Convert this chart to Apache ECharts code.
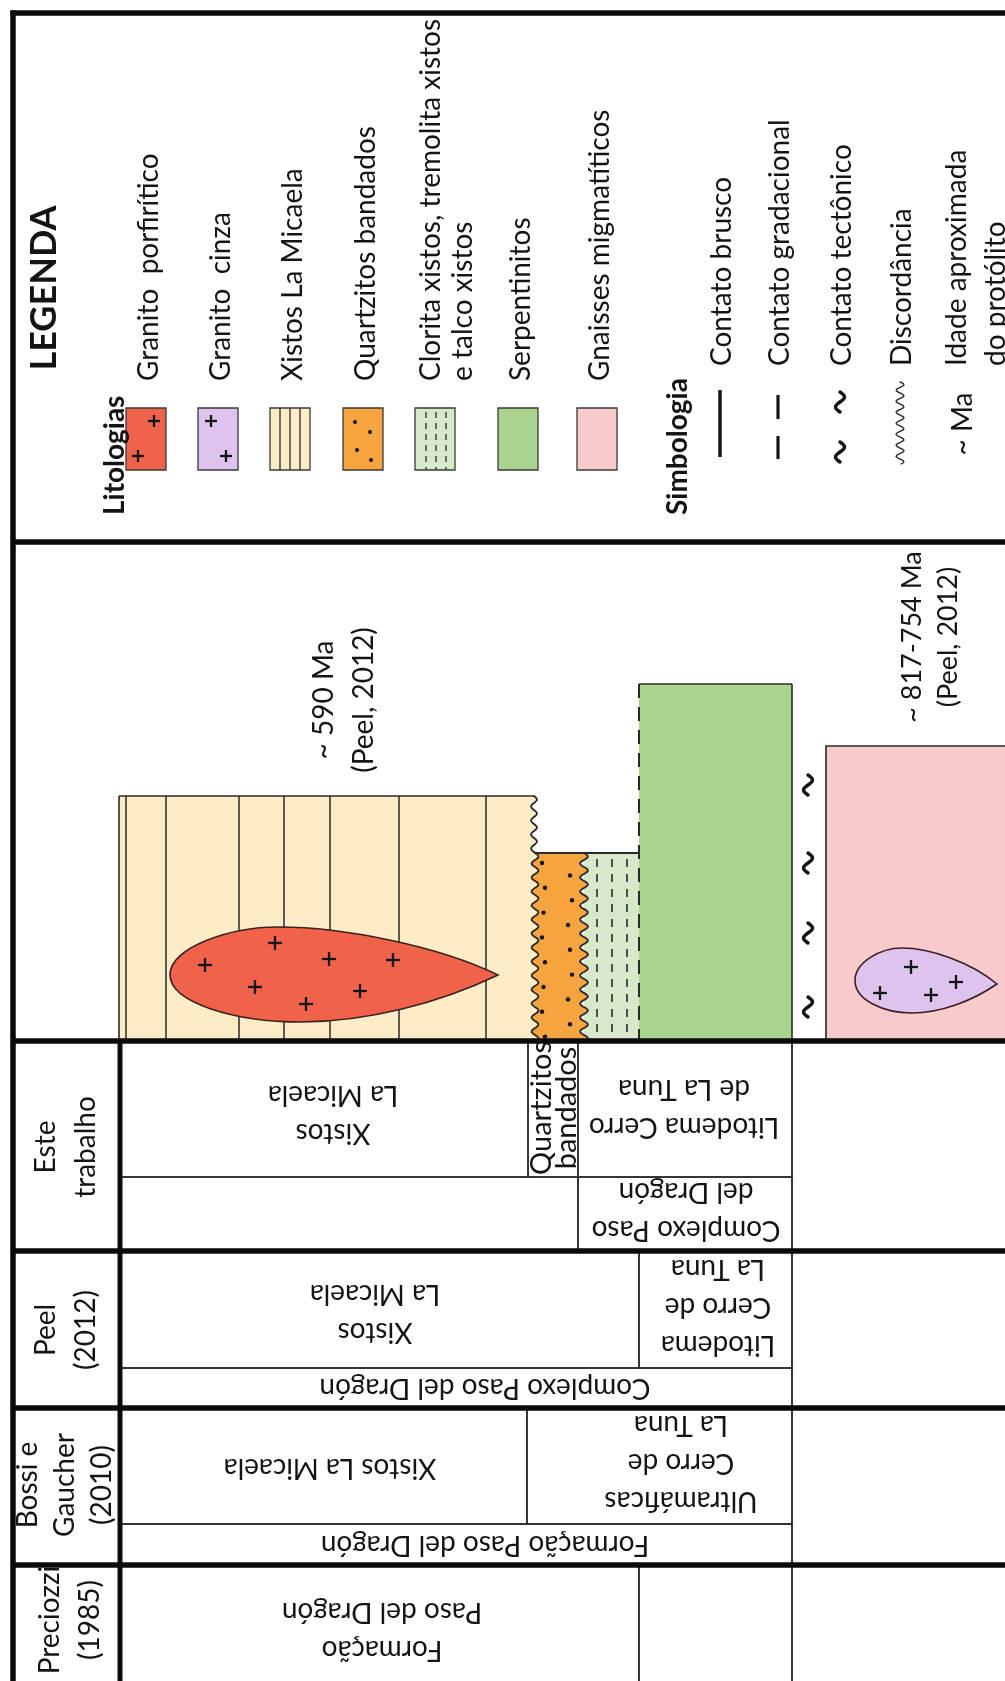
<!DOCTYPE html>
<html>
<head>
<meta charset="utf-8">
<script src="https://cdn.jsdelivr.net/npm/echarts@6/dist/echarts.min.js"></script>
<style>
  html, body { margin: 0; padding: 0; background: #ffffff; }
  #chart { width: 1005px; height: 1681px; }
</style>
</head>
<body>
<div id="chart"></div>
<script>
// ---------------- Legend entries ----------------
const lithologies = ['Granito  porfirítico', 'Granito  cinza', 'Xistos La Micaela', 'Quartzitos bandados',
  'Clorita xistos, tremolita xistos\ne talco xistos', 'Serpentinitos', 'Gnaisses migmatíticos'];
const contacts = ['Contato brusco', 'Contato gradacional', 'Contato tectônico', 'Discordância',
  'Idade aproximada\ndo protólito'];
const legendHeaders = ['LEGENDA', 'Litologias', 'Simbologia'];

// ---------------- Stratigraphic column ----------------
// Each unit: extent along the section (from, to) and the level of its top
const unitNames = ['Xistos La Micaela', 'Quartzitos bandados', 'Clorita xistos', 'Serpentinitos', 'Gnaisses migmatíticos'];
const unitFrom = [119, 535, 584, 639, 826];
const unitTo = [534, 584, 639, 792, 1010];
const unitTop = [796, 853, 853, 684, 746];
const columnBase = 1041;

// Intrusive bodies: left end, tip, top, bottom, level of the tip
const bodyNames = ['Granito porfirítico', 'Granito cinza'];
const bodyLeft = [170, 855];
const bodyTip = [498, 997];
const bodyTop = [927, 948];
const bodyBottom = [1022, 1013];
const bodyTipLevel = [975, 984];
const bodyCrosses = [
  [[205, 965], [275, 943], [255, 987], [306, 1004], [329, 959], [360, 991], [393, 960]],
  [[880, 993], [911, 967], [931, 995], [956, 982]]
];

// Tectonic contact between serpentinites and gneisses
const tectonicMarks = [785, 863, 933, 1007];

// Protolith ages
const ageLabels = ['~ 590 Ma\n(Peel, 2012)', '~ 817-754 Ma\n(Peel, 2012)'];

// ---------------- Correlation table ----------------
const authors = ['Este\ntrabalho', 'Peel\n(2012)', 'Bossi e\nGaucher\n(2010)', 'Preciozzi\n(1985)'];
const tableTexts = [
  'Xistos\nLa Micaela', 'Quartzitos\nbandados', 'Litodema Cerro\nde La Tuna', '', 'Complexo Paso\ndel Dragón', '',
  'Xistos\nLa Micaela', 'Litodema\nCerro de\nLa Tuna', 'Complexo Paso del Dragón', '',
  'Xistos La Micaela', 'Ultramáficas\nCerro de\nLa Tuna', 'Formação Paso del Dragón', '',
  'Formação\nPaso del Dragón', '', ''
];

// ---------------- Styles & layout ----------------
const FONT = 'Lato, "Open Sans", sans-serif';
const INK = '#141414';
const LINE = '#2a2a2a';
const unitColors = {
  'Granito porfirítico': '#F0634A',
  'Granito cinza': '#DDC3EE',
  'Xistos La Micaela': '#FDECC6',
  'Quartzitos bandados': '#F6A440',
  'Clorita xistos': '#D7E9CA',
  'Serpentinitos': '#A9D38E',
  'Gnaisses migmatíticos': '#F8CACC'
};
const legendColors = ['#F0634A', '#DDC3EE', '#FDECC6', '#F6A440', '#D7E9CA', '#A9D38E', '#F8CACC'];
const schistLines = [126, 166, 239, 284, 330, 399, 486];

// table cell boxes [left, right, top, bottom] and text anchors
const tableBoxes = [
  [120, 528, 1041, 1177], [528, 578, 1041, 1177], [578, 792, 1041, 1177], [120, 578, 1177, 1251], [578, 792, 1177, 1251], [792, 1010, 1041, 1251],
  [120, 639, 1251, 1368], [639, 792, 1251, 1368], [120, 792, 1368, 1408], [792, 1010, 1251, 1408],
  [120, 527, 1408, 1524], [527, 792, 1408, 1524], [120, 792, 1524, 1565], [792, 1010, 1408, 1565],
  [120, 639, 1565, 1690], [639, 792, 1565, 1690], [792, 1010, 1565, 1690]
];
const tableAnchors = [
  [333, 1114], [554, 1108], [684, 1108], null, [686, 1211], null,
  [375, 1313], [718, 1307], [485, 1388], null,
  [330, 1468], [681, 1463], [485, 1545], null,
  [382, 1631], null, null
];
const authorAnchors = [[66, 1147], [66, 1330], [65, 1485], [70, 1620]];
const rowEdges = [1041, 1251, 1408, 1565];

function font(size, bold) { return (bold ? 'bold ' : '') + size + 'px ' + FONT; }

function kit(api) {
  const c = (x, y) => api.coord([x, y]);
  return {
    c,
    line(x1, y1, x2, y2, w, dash, color) {
      const a = c(x1, y1), b = c(x2, y2);
      return { type: 'line', shape: { x1: a[0], y1: a[1], x2: b[0], y2: b[1] },
        style: { stroke: color || LINE, lineWidth: w || 1.5, lineDash: dash || null, lineCap: 'butt' } };
    },
    rect(x0, y0, x1, y1, fill, stroke, w) {
      const a = c(x0, y0), b = c(x1, y1);
      return { type: 'rect', shape: { x: a[0], y: a[1], width: b[0] - a[0], height: b[1] - a[1] },
        style: { fill: fill || null, stroke: stroke || null, lineWidth: w || 0 } };
    },
    polygon(pts, fill) {
      return { type: 'polygon', shape: { points: pts.map(q => c(q[0], q[1])) }, style: { fill: fill, stroke: null } };
    },
    polyline(pts, w, color) {
      return { type: 'polyline', shape: { points: pts.map(q => c(q[0], q[1])) },
        style: { fill: null, stroke: color || LINE, lineWidth: w || 1.5, lineJoin: 'round', lineCap: 'round' } };
    },
    dot(x, y, r) {
      const p = c(x, y);
      return { type: 'circle', shape: { cx: p[0], cy: p[1], r: r }, style: { fill: INK } };
    },
    plus(x, y, s) {
      return [this.line(x - s, y, x + s, y, 2.3, null, INK), this.line(x, y - s, x, y + s, 2.3, null, INK)];
    },
    text(x, y, s, o) {
      o = o || {};
      const p = c(x, y);
      return { type: 'text', x: p[0], y: p[1], rotation: o.rot || 0,
        style: { text: s, font: font(o.size || 28, o.bold), fill: o.color || INK,
          align: o.align || 'center', verticalAlign: o.va || 'middle', lineHeight: o.lh || 38 } };
    }
  };
}

const UP = Math.PI / 2;   // reads bottom to top
const FLIP = Math.PI;     // upside down

function wave(xc, y0, y1, amp, period) {
  const pts = [];
  const n = Math.max(2, Math.round(Math.abs(y1 - y0) / 1.5));
  for (let k = 0; k <= n; k++) {
    const y = y0 + (y1 - y0) * k / n;
    pts.push([xc + amp * Math.sin((y - y0) / period * 2 * Math.PI), y]);
  }
  return pts;
}
function tildeMark(h, x, y) {
  const pts = [];
  for (let k = 0; k <= 16; k++) {
    const t = k / 16;
    pts.push([x + 4.5 * Math.sin(2 * Math.PI * t), y - 10 + 20 * t]);
  }
  return h.polyline(pts, 3.4, INK);
}

// ---------------- Series ----------------
const drawOrder = [0, 2, 3, 4, 1];

const columnSeries = {
  type: 'custom', silent: true, animation: false, z: 2,
  encode: { x: [0, 1], y: 2 },
  data: drawOrder.map(i => [unitFrom[i], unitTo[i], unitTop[i], i]),
  renderItem(params, api) {
    const h = kit(api);
    const from = api.value(0), to = api.value(1), top = api.value(2), i = api.value(3);
    const name = unitNames[i], fill = unitColors[name];
    const kids = [];
    if (i === 0) {
      const edge = wave(to, top, unitTop[1], 3, 14);
      kids.push(h.polygon([[from, top]].concat(edge, [[to + 10, unitTop[1]], [to + 10, columnBase], [from, columnBase]]), fill));
      schistLines.forEach(x => kids.push(h.line(x, top, x, columnBase, 1.5)));
      kids.push(h.line(from, top, to, top, 1.6));
      kids.push(h.line(from, top, from, columnBase, 1.6));
      kids.push(h.polyline(edge, 1.8));
    } else if (i === 1) {
      const left = wave(from, top, columnBase, 3.5, 14);
      const right = wave(to, top, columnBase, 4, 14).reverse();
      kids.push(h.polygon(left.concat(right), fill));
      kids.push(h.polyline(left, 1.8));
      kids.push(h.polyline(right, 1.8));
      kids.push(h.line(from, top, to, top, 1.8));
      for (let k = 0; k < 15; k++) {
        const y = top + 10 + k * 12.4;
        const x = k % 2 ? to - 12 - (k % 3) * 2 : from + 7 + (k % 3) * 1.5;
        kids.push(h.dot(x, y, 2.2));
      }
    } else if (i === 2) {
      kids.push(h.rect(from, top, to, columnBase, fill));
      kids.push(h.line(from, top, to, top, 1.8));
      [13, 28, 43].forEach(dx => kids.push(h.line(from + dx, top + 6, from + dx, columnBase, 1.6, [8, 7])));
    } else if (i === 3) {
      kids.push(h.rect(from, top, to, columnBase, fill));
      kids.push(h.line(from, top, to, top, 1.6));
      kids.push(h.line(to, top, to, columnBase, 1.6));
      kids.push(h.line(from, top, from, columnBase, 2, [14, 9]));
    } else {
      kids.push(h.rect(from, top, to, columnBase, fill, LINE, 1.6));
    }
    return { type: 'group', children: kids };
  }
};

const bodySeries = {
  type: 'custom', silent: true, animation: false, z: 3,
  encode: { x: [0, 1], y: [2, 3] },
  data: bodyNames.map((n, i) => [bodyLeft[i], bodyTip[i], bodyTop[i], bodyBottom[i], bodyTipLevel[i], i]),
  renderItem(params, api) {
    const h = kit(api);
    const L = api.value(0), R = api.value(1), T = api.value(2), B = api.value(3), Y = api.value(4), i = api.value(5);
    const W = R - L, H = B - T;
    const topX = L + 0.33 * W, botX = L + 0.40 * W;
    const P = (x, y) => h.c(x, y).join(' ');
    const d = 'M ' + P(R, Y) +
      ' C ' + P(R - 0.18 * W, Y - (Y - T) * 0.6) + ' ' + P(topX + 0.2 * W, T) + ' ' + P(topX, T) +
      ' C ' + P(topX - 0.15 * W, T) + ' ' + P(L, T + 0.22 * H) + ' ' + P(L, T + 0.5 * H) +
      ' C ' + P(L, T + 0.8 * H) + ' ' + P(botX - 0.2 * W, B) + ' ' + P(botX, B) +
      ' C ' + P(botX + 0.2 * W, B) + ' ' + P(R - 0.18 * W, Y + (B - Y) * 0.6) + ' ' + P(R, Y) + ' Z';
    const kids = [{ type: 'path', shape: { pathData: d },
      style: { fill: unitColors[bodyNames[i]], stroke: '#3a2020', lineWidth: 1.6 } }];
    bodyCrosses[i].forEach(p => kids.push.apply(kids, h.plus(p[0], p[1], 7)));
    return { type: 'group', children: kids };
  }
};

const markSeries = {
  type: 'custom', silent: true, animation: false, z: 3,
  data: tectonicMarks.map(y => [808, y]),
  renderItem(params, api) {
    const h = kit(api);
    return tildeMark(h, api.value(0), api.value(1));
  }
};

const ageSeries = {
  type: 'custom', silent: true, animation: false, z: 3,
  data: [[344, 700, 0], [930, 637, 1]],
  renderItem(params, api) {
    const h = kit(api);
    const i = api.value(2);
    return h.text(api.value(0), api.value(1), ageLabels[i],
      i === 0 ? { rot: UP, lh: 40, size: 28 } : { rot: UP, lh: 36, size: 27 });
  }
};

// Legend: lithology swatches
const swatchX = [146, 218, 290, 363, 435, 518, 597];
const lithologySeries = {
  type: 'custom', silent: true, animation: false, z: 3,
  data: lithologies.map((n, i) => [swatchX[i], 408, i]),
  renderItem(params, api) {
    const h = kit(api);
    const cx = api.value(0), top = api.value(1), i = api.value(2), bot = top + 62;
    const kids = [h.rect(cx - 20, top, cx + 20, bot, legendColors[i])];
    if (i === 0) { kids.push.apply(kids, h.plus(cx + 8, top + 13, 6)); kids.push.apply(kids, h.plus(cx - 8, bot - 14, 6)); }
    if (i === 1) { kids.push.apply(kids, h.plus(cx - 7, top + 13, 6)); kids.push.apply(kids, h.plus(cx + 8, bot - 14, 6)); }
    if (i === 2) { [-10, 0, 10].forEach(dx => kids.push(h.line(cx + dx, top, cx + dx, bot, 1.3))); }
    if (i === 3) { [[-8, 14], [7, 24], [-6, 42], [8, 52]].forEach(p => kids.push(h.dot(cx + p[0], top + p[1], 2))); }
    if (i === 4) { [-9, 1, 11].forEach(dx => kids.push(h.line(cx + dx, top + 4, cx + dx, bot, 1.3, [6, 5]))); }
    kids.push(h.rect(cx - 20, top, cx + 20, bot, null, '#3a3a3a', 1.3));
    const lx = i === 4 ? cx + 12 : cx + 3;
    kids.push(h.text(lx, 381, lithologies[i], { rot: UP, align: 'left', lh: 32 }));
    return { type: 'group', children: kids };
  }
};

// Legend: contact symbols
const symbolX = [720, 778, 840, 900, 963];
const contactSeries = {
  type: 'custom', silent: true, animation: false, z: 3,
  data: contacts.map((n, i) => [symbolX[i], 424, i]),
  renderItem(params, api) {
    const h = kit(api);
    const x = api.value(0), y = api.value(1), i = api.value(2);
    const kids = [];
    if (i === 0) kids.push(h.line(x, y - 34, x, y + 33, 3.5, null, INK));
    if (i === 1) { kids.push(h.line(x, y - 29, x, y - 5, 3.2, null, INK)); kids.push(h.line(x, y + 12, x, y + 35, 3.2, null, INK)); }
    if (i === 2) { kids.push(tildeMark(h, x, y - 22)); kids.push(tildeMark(h, x, y + 28)); }
    if (i === 3) kids.push(h.polyline(wave(x, y - 42, y + 40, 4, 11), 1.4));
    if (i === 4) kids.push(h.text(x, y, '~ Ma', { rot: UP }));
    const lx = i === 4 ? 976 : x + 2;
    kids.push(h.text(lx, 366, contacts[i], { rot: UP, align: 'left', lh: 39 }));
    return { type: 'group', children: kids };
  }
};

const headerSeries = {
  type: 'custom', silent: true, animation: false, z: 3,
  data: [[44, 288, 0], [115, 515, 1], [678, 515, 2]],
  renderItem(params, api) {
    const h = kit(api);
    const i = api.value(2);
    if (i === 0) return h.text(api.value(0), api.value(1), legendHeaders[0], { rot: UP, bold: true, size: 36 });
    return h.text(api.value(0), api.value(1), legendHeaders[i], { rot: UP, bold: true, align: 'left', size: 28 });
  }
};

// Correlation table
const tableSeries = {
  type: 'custom', silent: true, animation: false, z: 4,
  data: tableTexts.map((t, i) => [tableBoxes[i][0], tableBoxes[i][2], i]),
  renderItem(params, api) {
    const h = kit(api);
    const i = api.value(2), b = tableBoxes[i];
    const kids = [h.rect(b[0], b[2], b[1], b[3], null, LINE, 1.5)];
    const a = tableAnchors[i];
    if (a) {
      if (i === 1) kids.push(h.text(a[0], a[1], tableTexts[i], { rot: UP, size: 29, lh: 25 }));
      else kids.push(h.text(a[0], a[1], tableTexts[i], { rot: FLIP, lh: 38 }));
    }
    return { type: 'group', children: kids };
  }
};

const authorSeries = {
  type: 'custom', silent: true, animation: false, z: 4,
  data: authors.map((a, i) => [authorAnchors[i][0], authorAnchors[i][1], i]),
  renderItem(params, api) {
    const h = kit(api);
    const i = api.value(2);
    return h.text(api.value(0), api.value(1), authors[i], { rot: UP, lh: i === 2 ? 37 : 40 });
  }
};

// Heavy frame lines of the sheet
const frameSeries = {
  type: 'custom', silent: true, animation: false, z: 10,
  data: [[0]],
  renderItem(params, api) {
    const h = kit(api);
    const kids = [
      h.line(10.5, 13, 1010, 13, 5.5, null, '#0a0a0a'),
      h.line(13, 10.5, 13, 1690, 5.5, null, '#0a0a0a'),
      h.line(13, 542, 1010, 542, 5.5, null, '#0a0a0a'),
      h.line(120, columnBase, 120, 1690, 5, null, '#0a0a0a')
    ];
    rowEdges.forEach(y => kids.push(h.line(13, y, 1010, y, 5.5, null, '#0a0a0a')));
    return { type: 'group', children: kids };
  }
};

const chart = echarts.init(document.getElementById('chart'), null, { renderer: 'canvas' });
chart.setOption({
  animation: false,
  backgroundColor: '#ffffff',
  grid: { left: 0, right: 0, top: 0, bottom: 0, containLabel: false },
  xAxis: { type: 'value', min: 0, max: 1005, show: false },
  yAxis: { type: 'value', min: 0, max: 1681, inverse: true, show: false },
  series: [columnSeries, bodySeries, markSeries, ageSeries, lithologySeries, contactSeries, headerSeries,
    tableSeries, authorSeries, frameSeries]
});
</script>
</body>
</html>
